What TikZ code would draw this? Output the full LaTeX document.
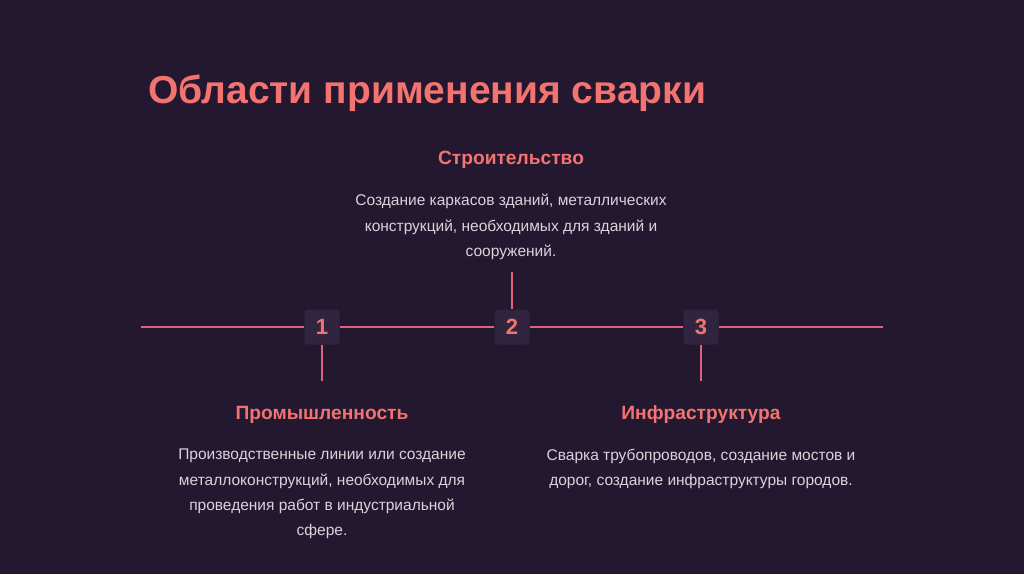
\documentclass[tikz,border=0pt]{standalone}
\usepackage{fontspec}
\setmainfont{Liberation Sans}
\definecolor{bg}{HTML}{231830}
\definecolor{accent}{HTML}{F2736F}
\definecolor{linec}{HTML}{E0627A}
\definecolor{boxc}{HTML}{30243F}
\definecolor{bodyc}{HTML}{DCD2DA}
\begin{document}
\begin{tikzpicture}[x=1pt,y=-1pt,
  numbox/.style={fill=boxc,rounded corners=3pt,minimum width=35pt,minimum height=35pt,inner sep=0pt,text=accent,font=\bfseries\fontsize{22}{22}\selectfont},
  conn/.style={draw=linec,line width=1.8pt},
  head/.style={text=accent,font=\bfseries\fontsize{19.2}{19.2}\selectfont,inner sep=0pt},
  body/.style={text=bodyc,font=\fontsize{15.5}{25.3}\selectfont,align=center,inner sep=0pt}]
\fill[bg] (0,0) rectangle (1024,574);
\useasboundingbox (0,0) rectangle (1024,574);
\node[anchor=base west,text=accent,font=\bfseries\fontsize{39}{39}\selectfont,inner sep=0pt] (title) at (148,103) {Области применения сварки};
\coordinate (L) at (141,327);
\coordinate (R) at (883,327);
\node[numbox] (n1) at (322,327) {1};
\node[numbox] (n2) at (512,327) {2};
\node[numbox] (n3) at (701,327) {3};
\draw[conn] (L) -- (n1.west);
\draw[conn] (n1.east) -- (n2.west);
\draw[conn] (n2.east) -- (n3.west);
\draw[conn] (n3.east) -- (R);
\coordinate (u2) at (512,272);
\coordinate (d1) at (322,381);
\coordinate (d3) at (701,381);
\draw[conn] (n2.north) -- (u2);
\draw[conn] (n1.south) -- (d1);
\draw[conn] (n3.south) -- (d3);
\node[head] (h2) at (511,160) {Строительство};
\node[head] (h1) at (322,415) {Промышленность};
\node[head] (h3) at (701,415) {Инфраструктура};
\node[body,anchor=north] (b2) at (511,194) {Создание каркасов зданий, металлических\\конструкций, необходимых для зданий и\\сооружений.};
\node[body,anchor=north] (b1) at (322,449) {Производственные линии или создание\\металлоконструкций, необходимых для\\проведения работ в индустриальной\\сфере.};
\node[body,anchor=north] (b3) at (701,449) {Сварка трубопроводов, создание мостов и\\дорог, создание инфраструктуры городов.};
\end{tikzpicture}
\end{document}
